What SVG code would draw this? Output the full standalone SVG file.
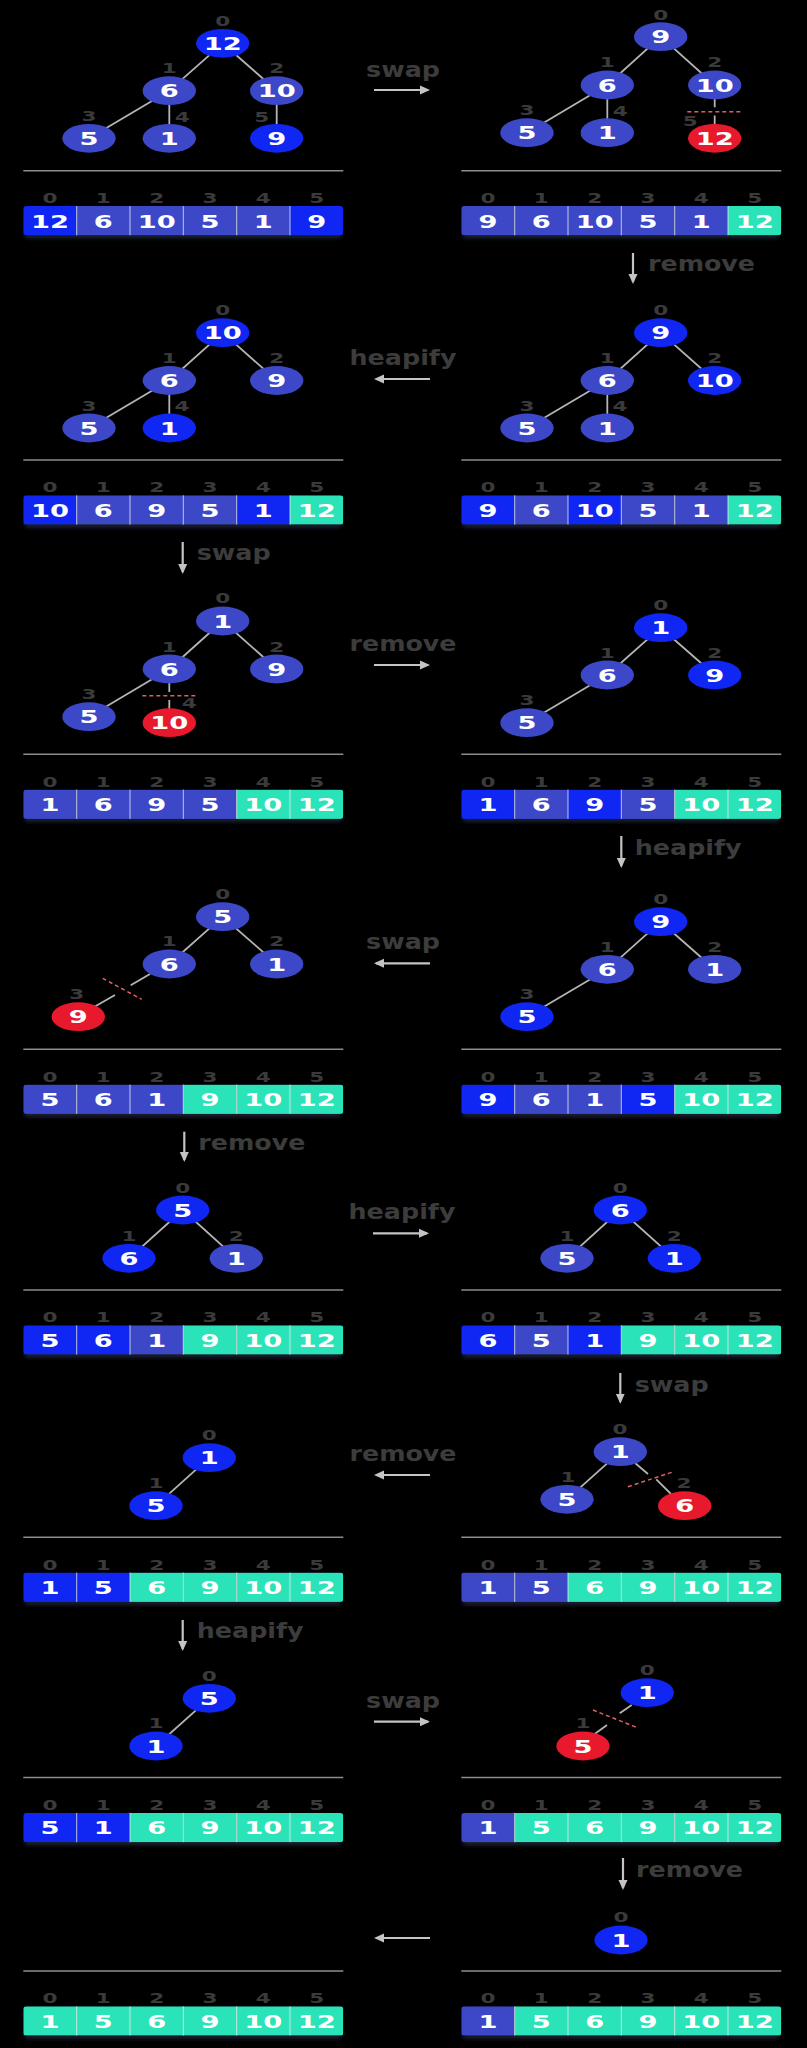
<svg xmlns="http://www.w3.org/2000/svg" width="807" height="2048" viewBox="0 0 807 2048">
<style>
.B{fill:#1026f2}.M{fill:#3d48c8}.R{fill:#e8192c}.T{fill:#2ae3b9}
.v{font-family:"DejaVu Sans","Liberation Sans",sans-serif;font-weight:bold;font-size:18.5px;fill:#fff;text-anchor:middle}
.i{font-family:"DejaVu Sans","Liberation Sans",sans-serif;font-weight:bold;font-size:14px;fill:#3a3a3a;text-anchor:middle}
.a{font-family:"DejaVu Sans","Liberation Sans",sans-serif;font-weight:bold;font-size:22px;fill:#3c3c3c}
.c{text-anchor:middle}
.e{stroke:#b4b4b4;stroke-width:1.8;fill:none}
.d{stroke:#e06060;stroke-width:1.5;stroke-dasharray:4 3;fill:none}
.ar{stroke:#c4c4c4;stroke-width:2.2;fill:none;marker-end:url(#ah)}
.dv{stroke:#8c8c8c;stroke-width:1.5}
.sp{stroke:#e8e8e8;stroke-width:1;opacity:.8}
.sh{fill:#1b2333;filter:url(#bl)}
</style>
<defs>
<marker id="ah" markerWidth="10" markerHeight="10" refX="8" refY="5" orient="auto" markerUnits="userSpaceOnUse"><path d="M0,0.5 L10,5 L0,9.5 z" fill="#c4c4c4"/></marker>
<clipPath id="rc" clipPathUnits="objectBoundingBox"><rect x="0" y="0" width="1" height="1" rx="0.01" ry="0.1"/></clipPath>
<filter id="bl" x="-10%" y="-50%" width="120%" height="200%"><feGaussianBlur stdDeviation="2"/></filter>
</defs>
<rect width="807" height="2048" fill="#000"/>

<g id="dividers">
<path class="dv" d="M23.3,170.7H343.3M461.3,170.7H781.3M23.3,460H343.3M461.3,460H781.3M23.3,754.3H343.3M461.3,754.3H781.3M23.3,1049.3H343.3M461.3,1049.3H781.3M23.3,1290H343.3M461.3,1290H781.3M23.3,1537.3H343.3M461.3,1537.3H781.3M23.3,1777.6H343.3M461.3,1777.6H781.3M23.3,1971H343.3M461.3,1971H781.3"/>
</g>

<g id="connectors">
<path class="e" d="M222.7,43.3L169.3,90.7M222.7,43.3L276.7,90.7M169.3,90.7L89,138.3M169.3,90.7L169.3,138.3M276.7,90.7L276.7,138.3"/>
<path class="e" d="M660.7,36.7L607.3,85M660.7,36.7L714.7,85M607.3,85L527,132.7M607.3,85L607.3,132.7M714.7,99L714.7,107.3M714.7,115.5L714.7,124.5"/>
<path class="e" d="M222.7,332.7L169.3,380.5M222.7,332.7L276.7,380.5M169.3,380.5L89,428M169.3,380.5L169.3,428"/>
<path class="e" d="M660.7,332.7L607.3,380.5M660.7,332.7L714.7,380.5M607.3,380.5L527,428M607.3,380.5L607.3,428"/>
<path class="e" d="M222.7,621L169.3,669M222.7,621L276.7,669M169.3,669L89,716.7M169.3,683L169.3,692M169.3,700L169.3,709"/>
<path class="e" d="M660.7,627.7L607.3,675M660.7,627.7L714.7,675M607.3,675L527,722.7"/>
<path class="e" d="M222.7,916.7L169.3,964M222.7,916.7L276.7,964M150,974L130.7,985.3M115,995L94,1007"/>
<path class="e" d="M660.7,921.7L607.3,969.3M660.7,921.7L714.7,969.3M607.3,969.3L527,1016.7"/>
<path class="e" d="M182.7,1210L129,1258.3M182.7,1210L236.3,1258.3"/>
<path class="e" d="M620.3,1210L567,1258.3M620.3,1210L674.3,1258.3"/>
<path class="e" d="M209.3,1457.7L156,1505.7"/>
<path class="e" d="M620.3,1451.7L567,1499.3M635.3,1463.3L648,1474M656.3,1479.3L671,1494"/>
<path class="e" d="M209.3,1698.3L156,1746"/>
<path class="e" d="M631.7,1705L619.7,1713.3M607,1725L594,1734.5"/>
<path class="d" d="M687.3,111.7H741.3M142.3,695.7H196M102.7,978.3L141.7,999.3M628,1486.7L673.7,1471.7M593,1710L636.3,1727.3"/>
<path class="ar" d="M374,90H428"/>
<path class="ar" d="M430,379H376"/>
<path class="ar" d="M374,665H428"/>
<path class="ar" d="M430,963.3H376"/>
<path class="ar" d="M373,1233.3H427"/>
<path class="ar" d="M430,1475H376"/>
<path class="ar" d="M374,1721.7H428"/>
<path class="ar" d="M430,1938H376"/>
<path class="ar" d="M633,253V282"/>
<path class="ar" d="M182.7,542V572"/>
<path class="ar" d="M621.3,836V866"/>
<path class="ar" d="M184.3,1131.7V1160"/>
<path class="ar" d="M620.3,1373V1401.7"/>
<path class="ar" d="M182.7,1620V1649"/>
<path class="ar" d="M623,1858V1888"/>
</g>

<g id="labels">
<text class="a c" x="403" y="77" textLength="74" lengthAdjust="spacingAndGlyphs">swap</text>
<text class="a c" x="403" y="365" textLength="107" lengthAdjust="spacingAndGlyphs">heapify</text>
<text class="a c" x="403" y="651" textLength="107" lengthAdjust="spacingAndGlyphs">remove</text>
<text class="a c" x="403" y="949.3" textLength="74" lengthAdjust="spacingAndGlyphs">swap</text>
<text class="a c" x="402" y="1219.3" textLength="107" lengthAdjust="spacingAndGlyphs">heapify</text>
<text class="a c" x="403" y="1461" textLength="107" lengthAdjust="spacingAndGlyphs">remove</text>
<text class="a c" x="403" y="1707.5" textLength="74" lengthAdjust="spacingAndGlyphs">swap</text>
<text class="a" x="648" y="271" textLength="107" lengthAdjust="spacingAndGlyphs">remove</text>
<text class="a" x="196.7" y="560" textLength="74" lengthAdjust="spacingAndGlyphs">swap</text>
<text class="a" x="634.7" y="855" textLength="107" lengthAdjust="spacingAndGlyphs">heapify</text>
<text class="a" x="198.3" y="1149.5" textLength="107" lengthAdjust="spacingAndGlyphs">remove</text>
<text class="a" x="634.7" y="1391.7" textLength="74" lengthAdjust="spacingAndGlyphs">swap</text>
<text class="a" x="196.7" y="1638.3" textLength="107" lengthAdjust="spacingAndGlyphs">heapify</text>
<text class="a" x="636" y="1877" textLength="107" lengthAdjust="spacingAndGlyphs">remove</text>
</g>

<!-- Row 1 left -->
<g id="r1l-n0"><text class="i" x="222.7" y="25.7" textLength="15" lengthAdjust="spacingAndGlyphs">0</text><ellipse class="B" cx="222.7" cy="43.3" rx="26.7" ry="14.4"/><text class="v" x="222.7" y="50" textLength="38" lengthAdjust="spacingAndGlyphs">12</text></g>
<g id="r1l-n1"><text class="i" x="169.3" y="73" textLength="15" lengthAdjust="spacingAndGlyphs">1</text><ellipse class="M" cx="169.3" cy="90.7" rx="26.7" ry="14.4"/><text class="v" x="169.3" y="97.4" textLength="19" lengthAdjust="spacingAndGlyphs">6</text></g>
<g id="r1l-n2"><text class="i" x="276.7" y="73" textLength="15" lengthAdjust="spacingAndGlyphs">2</text><ellipse class="M" cx="276.7" cy="90.7" rx="26.7" ry="14.4"/><text class="v" x="276.7" y="97.4" textLength="38" lengthAdjust="spacingAndGlyphs">10</text></g>
<g id="r1l-n3"><text class="i" x="89" y="121" textLength="15" lengthAdjust="spacingAndGlyphs">3</text><ellipse class="M" cx="89" cy="138.3" rx="26.7" ry="14.4"/><text class="v" x="89" y="145" textLength="19" lengthAdjust="spacingAndGlyphs">5</text></g>
<g id="r1l-n4"><text class="i" x="182.3" y="122" textLength="15" lengthAdjust="spacingAndGlyphs">4</text><ellipse class="M" cx="169.3" cy="138.3" rx="26.7" ry="14.4"/><text class="v" x="169.3" y="145" textLength="19" lengthAdjust="spacingAndGlyphs">1</text></g>
<g id="r1l-n5"><text class="i" x="261.7" y="122" textLength="15" lengthAdjust="spacingAndGlyphs">5</text><ellipse class="B" cx="276.7" cy="138.3" rx="26.7" ry="14.4"/><text class="v" x="276.7" y="145" textLength="19" lengthAdjust="spacingAndGlyphs">9</text></g>
<g id="r1l-array">
<rect class="sh" x="25" y="209" width="316" height="29.3"/>
<text class="i" x="50" y="203" textLength="15" lengthAdjust="spacingAndGlyphs">0</text><text class="i" x="103.3" y="203" textLength="15" lengthAdjust="spacingAndGlyphs">1</text><text class="i" x="156.7" y="203" textLength="15" lengthAdjust="spacingAndGlyphs">2</text><text class="i" x="210" y="203" textLength="15" lengthAdjust="spacingAndGlyphs">3</text><text class="i" x="263.3" y="203" textLength="15" lengthAdjust="spacingAndGlyphs">4</text><text class="i" x="316.7" y="203" textLength="15" lengthAdjust="spacingAndGlyphs">5</text>
<g clip-path="url(#rc)"><rect class="B" x="23.3" y="206" width="53.4" height="29.3"/><rect class="M" x="76.7" y="206" width="53.4" height="29.3"/><rect class="M" x="130" y="206" width="53.4" height="29.3"/><rect class="M" x="183.3" y="206" width="53.4" height="29.3"/><rect class="M" x="236.7" y="206" width="53.4" height="29.3"/><rect class="B" x="290" y="206" width="53.3" height="29.3"/></g>
<path class="sp" d="M76.7,206v29.3M130,206v29.3M183.3,206v29.3M236.7,206v29.3M290,206v29.3"/>
<text class="v" x="50" y="227.5" textLength="38" lengthAdjust="spacingAndGlyphs">12</text><text class="v" x="103.3" y="227.5" textLength="19" lengthAdjust="spacingAndGlyphs">6</text><text class="v" x="156.7" y="227.5" textLength="38" lengthAdjust="spacingAndGlyphs">10</text><text class="v" x="210" y="227.5" textLength="19" lengthAdjust="spacingAndGlyphs">5</text><text class="v" x="263.3" y="227.5" textLength="19" lengthAdjust="spacingAndGlyphs">1</text><text class="v" x="316.7" y="227.5" textLength="19" lengthAdjust="spacingAndGlyphs">9</text>
</g>

<!-- Row 1 right -->
<g id="r1r-n0"><text class="i" x="660.7" y="20" textLength="15" lengthAdjust="spacingAndGlyphs">0</text><ellipse class="M" cx="660.7" cy="36.7" rx="26.7" ry="14.4"/><text class="v" x="660.7" y="43.4" textLength="19" lengthAdjust="spacingAndGlyphs">9</text></g>
<g id="r1r-n1"><text class="i" x="607.3" y="67.4" textLength="15" lengthAdjust="spacingAndGlyphs">1</text><ellipse class="M" cx="607.3" cy="85" rx="26.7" ry="14.4"/><text class="v" x="607.3" y="91.7" textLength="19" lengthAdjust="spacingAndGlyphs">6</text></g>
<g id="r1r-n2"><text class="i" x="714.7" y="67.4" textLength="15" lengthAdjust="spacingAndGlyphs">2</text><ellipse class="M" cx="714.7" cy="85" rx="26.7" ry="14.4"/><text class="v" x="714.7" y="91.7" textLength="38" lengthAdjust="spacingAndGlyphs">10</text></g>
<g id="r1r-n3"><text class="i" x="527" y="115.4" textLength="15" lengthAdjust="spacingAndGlyphs">3</text><ellipse class="M" cx="527" cy="132.7" rx="26.7" ry="14.4"/><text class="v" x="527" y="139.4" textLength="19" lengthAdjust="spacingAndGlyphs">5</text></g>
<g id="r1r-n4"><text class="i" x="620.3" y="116" textLength="15" lengthAdjust="spacingAndGlyphs">4</text><ellipse class="M" cx="607.3" cy="132.7" rx="26.7" ry="14.4"/><text class="v" x="607.3" y="139.4" textLength="19" lengthAdjust="spacingAndGlyphs">1</text></g>
<g id="r1r-n5"><text class="i" x="690.3" y="125.7" textLength="15" lengthAdjust="spacingAndGlyphs">5</text><ellipse class="R" cx="714.7" cy="138.3" rx="26.7" ry="14.4"/><text class="v" x="714.7" y="145" textLength="38" lengthAdjust="spacingAndGlyphs">12</text></g>
<g id="r1r-array">
<rect class="sh" x="463" y="209" width="316" height="29.3"/>
<text class="i" x="488" y="203" textLength="15" lengthAdjust="spacingAndGlyphs">0</text><text class="i" x="541.3" y="203" textLength="15" lengthAdjust="spacingAndGlyphs">1</text><text class="i" x="594.7" y="203" textLength="15" lengthAdjust="spacingAndGlyphs">2</text><text class="i" x="648" y="203" textLength="15" lengthAdjust="spacingAndGlyphs">3</text><text class="i" x="701.3" y="203" textLength="15" lengthAdjust="spacingAndGlyphs">4</text><text class="i" x="754.7" y="203" textLength="15" lengthAdjust="spacingAndGlyphs">5</text>
<g clip-path="url(#rc)"><rect class="M" x="461.3" y="206" width="53.4" height="29.3"/><rect class="M" x="514.7" y="206" width="53.4" height="29.3"/><rect class="M" x="568" y="206" width="53.4" height="29.3"/><rect class="M" x="621.3" y="206" width="53.4" height="29.3"/><rect class="M" x="674.7" y="206" width="53.4" height="29.3"/><rect class="T" x="728" y="206" width="53.3" height="29.3"/></g>
<path class="sp" d="M514.7,206v29.3M568,206v29.3M621.3,206v29.3M674.7,206v29.3M728,206v29.3"/>
<text class="v" x="488" y="227.5" textLength="19" lengthAdjust="spacingAndGlyphs">9</text><text class="v" x="541.3" y="227.5" textLength="19" lengthAdjust="spacingAndGlyphs">6</text><text class="v" x="594.7" y="227.5" textLength="38" lengthAdjust="spacingAndGlyphs">10</text><text class="v" x="648" y="227.5" textLength="19" lengthAdjust="spacingAndGlyphs">5</text><text class="v" x="701.3" y="227.5" textLength="19" lengthAdjust="spacingAndGlyphs">1</text><text class="v" x="754.7" y="227.5" textLength="38" lengthAdjust="spacingAndGlyphs">12</text>
</g>

<!-- Row 2 left -->
<g id="r2l-n0"><text class="i" x="222.7" y="315" textLength="15" lengthAdjust="spacingAndGlyphs">0</text><ellipse class="B" cx="222.7" cy="332.7" rx="26.7" ry="14.4"/><text class="v" x="222.7" y="339.4" textLength="38" lengthAdjust="spacingAndGlyphs">10</text></g>
<g id="r2l-n1"><text class="i" x="169.3" y="362.7" textLength="15" lengthAdjust="spacingAndGlyphs">1</text><ellipse class="M" cx="169.3" cy="380.5" rx="26.7" ry="14.4"/><text class="v" x="169.3" y="387.2" textLength="19" lengthAdjust="spacingAndGlyphs">6</text></g>
<g id="r2l-n2"><text class="i" x="276.7" y="362.7" textLength="15" lengthAdjust="spacingAndGlyphs">2</text><ellipse class="M" cx="276.7" cy="380.5" rx="26.7" ry="14.4"/><text class="v" x="276.7" y="387.2" textLength="19" lengthAdjust="spacingAndGlyphs">9</text></g>
<g id="r2l-n3"><text class="i" x="89" y="410.7" textLength="15" lengthAdjust="spacingAndGlyphs">3</text><ellipse class="M" cx="89" cy="428" rx="26.7" ry="14.4"/><text class="v" x="89" y="434.7" textLength="19" lengthAdjust="spacingAndGlyphs">5</text></g>
<g id="r2l-n4"><text class="i" x="182" y="411" textLength="15" lengthAdjust="spacingAndGlyphs">4</text><ellipse class="B" cx="169.3" cy="428" rx="26.7" ry="14.4"/><text class="v" x="169.3" y="434.7" textLength="19" lengthAdjust="spacingAndGlyphs">1</text></g>
<g id="r2l-array">
<rect class="sh" x="25" y="498.3" width="316" height="29.3"/>
<text class="i" x="50" y="492.3" textLength="15" lengthAdjust="spacingAndGlyphs">0</text><text class="i" x="103.3" y="492.3" textLength="15" lengthAdjust="spacingAndGlyphs">1</text><text class="i" x="156.7" y="492.3" textLength="15" lengthAdjust="spacingAndGlyphs">2</text><text class="i" x="210" y="492.3" textLength="15" lengthAdjust="spacingAndGlyphs">3</text><text class="i" x="263.3" y="492.3" textLength="15" lengthAdjust="spacingAndGlyphs">4</text><text class="i" x="316.7" y="492.3" textLength="15" lengthAdjust="spacingAndGlyphs">5</text>
<g clip-path="url(#rc)"><rect class="B" x="23.3" y="495.3" width="53.4" height="29.3"/><rect class="M" x="76.7" y="495.3" width="53.4" height="29.3"/><rect class="M" x="130" y="495.3" width="53.4" height="29.3"/><rect class="M" x="183.3" y="495.3" width="53.4" height="29.3"/><rect class="B" x="236.7" y="495.3" width="53.4" height="29.3"/><rect class="T" x="290" y="495.3" width="53.3" height="29.3"/></g>
<path class="sp" d="M76.7,495.3v29.3M130,495.3v29.3M183.3,495.3v29.3M236.7,495.3v29.3M290,495.3v29.3"/>
<text class="v" x="50" y="516.8" textLength="38" lengthAdjust="spacingAndGlyphs">10</text><text class="v" x="103.3" y="516.8" textLength="19" lengthAdjust="spacingAndGlyphs">6</text><text class="v" x="156.7" y="516.8" textLength="19" lengthAdjust="spacingAndGlyphs">9</text><text class="v" x="210" y="516.8" textLength="19" lengthAdjust="spacingAndGlyphs">5</text><text class="v" x="263.3" y="516.8" textLength="19" lengthAdjust="spacingAndGlyphs">1</text><text class="v" x="316.7" y="516.8" textLength="38" lengthAdjust="spacingAndGlyphs">12</text>
</g>

<!-- Row 2 right -->
<g id="r2r-n0"><text class="i" x="660.7" y="315" textLength="15" lengthAdjust="spacingAndGlyphs">0</text><ellipse class="B" cx="660.7" cy="332.7" rx="26.7" ry="14.4"/><text class="v" x="660.7" y="339.4" textLength="19" lengthAdjust="spacingAndGlyphs">9</text></g>
<g id="r2r-n1"><text class="i" x="607.3" y="362.7" textLength="15" lengthAdjust="spacingAndGlyphs">1</text><ellipse class="M" cx="607.3" cy="380.5" rx="26.7" ry="14.4"/><text class="v" x="607.3" y="387.2" textLength="19" lengthAdjust="spacingAndGlyphs">6</text></g>
<g id="r2r-n2"><text class="i" x="714.7" y="362.7" textLength="15" lengthAdjust="spacingAndGlyphs">2</text><ellipse class="B" cx="714.7" cy="380.5" rx="26.7" ry="14.4"/><text class="v" x="714.7" y="387.2" textLength="38" lengthAdjust="spacingAndGlyphs">10</text></g>
<g id="r2r-n3"><text class="i" x="527" y="410.7" textLength="15" lengthAdjust="spacingAndGlyphs">3</text><ellipse class="M" cx="527" cy="428" rx="26.7" ry="14.4"/><text class="v" x="527" y="434.7" textLength="19" lengthAdjust="spacingAndGlyphs">5</text></g>
<g id="r2r-n4"><text class="i" x="620" y="411" textLength="15" lengthAdjust="spacingAndGlyphs">4</text><ellipse class="M" cx="607.3" cy="428" rx="26.7" ry="14.4"/><text class="v" x="607.3" y="434.7" textLength="19" lengthAdjust="spacingAndGlyphs">1</text></g>
<g id="r2r-array">
<rect class="sh" x="463" y="498.3" width="316" height="29.3"/>
<text class="i" x="488" y="492.3" textLength="15" lengthAdjust="spacingAndGlyphs">0</text><text class="i" x="541.3" y="492.3" textLength="15" lengthAdjust="spacingAndGlyphs">1</text><text class="i" x="594.7" y="492.3" textLength="15" lengthAdjust="spacingAndGlyphs">2</text><text class="i" x="648" y="492.3" textLength="15" lengthAdjust="spacingAndGlyphs">3</text><text class="i" x="701.3" y="492.3" textLength="15" lengthAdjust="spacingAndGlyphs">4</text><text class="i" x="754.7" y="492.3" textLength="15" lengthAdjust="spacingAndGlyphs">5</text>
<g clip-path="url(#rc)"><rect class="B" x="461.3" y="495.3" width="53.4" height="29.3"/><rect class="M" x="514.7" y="495.3" width="53.4" height="29.3"/><rect class="B" x="568" y="495.3" width="53.4" height="29.3"/><rect class="M" x="621.3" y="495.3" width="53.4" height="29.3"/><rect class="M" x="674.7" y="495.3" width="53.4" height="29.3"/><rect class="T" x="728" y="495.3" width="53.3" height="29.3"/></g>
<path class="sp" d="M514.7,495.3v29.3M568,495.3v29.3M621.3,495.3v29.3M674.7,495.3v29.3M728,495.3v29.3"/>
<text class="v" x="488" y="516.8" textLength="19" lengthAdjust="spacingAndGlyphs">9</text><text class="v" x="541.3" y="516.8" textLength="19" lengthAdjust="spacingAndGlyphs">6</text><text class="v" x="594.7" y="516.8" textLength="38" lengthAdjust="spacingAndGlyphs">10</text><text class="v" x="648" y="516.8" textLength="19" lengthAdjust="spacingAndGlyphs">5</text><text class="v" x="701.3" y="516.8" textLength="19" lengthAdjust="spacingAndGlyphs">1</text><text class="v" x="754.7" y="516.8" textLength="38" lengthAdjust="spacingAndGlyphs">12</text>
</g>

<!-- Row 3 left -->
<g id="r3l-n0"><text class="i" x="222.7" y="603.4" textLength="15" lengthAdjust="spacingAndGlyphs">0</text><ellipse class="M" cx="222.7" cy="621" rx="26.7" ry="14.4"/><text class="v" x="222.7" y="627.7" textLength="19" lengthAdjust="spacingAndGlyphs">1</text></g>
<g id="r3l-n1"><text class="i" x="169.3" y="651.5" textLength="15" lengthAdjust="spacingAndGlyphs">1</text><ellipse class="M" cx="169.3" cy="669" rx="26.7" ry="14.4"/><text class="v" x="169.3" y="675.7" textLength="19" lengthAdjust="spacingAndGlyphs">6</text></g>
<g id="r3l-n2"><text class="i" x="276.7" y="651.5" textLength="15" lengthAdjust="spacingAndGlyphs">2</text><ellipse class="M" cx="276.7" cy="669" rx="26.7" ry="14.4"/><text class="v" x="276.7" y="675.7" textLength="19" lengthAdjust="spacingAndGlyphs">9</text></g>
<g id="r3l-n3"><text class="i" x="89" y="699.2" textLength="15" lengthAdjust="spacingAndGlyphs">3</text><ellipse class="M" cx="89" cy="716.7" rx="26.7" ry="14.4"/><text class="v" x="89" y="723.4" textLength="19" lengthAdjust="spacingAndGlyphs">5</text></g>
<g id="r3l-n4"><text class="i" x="189.3" y="707.7" textLength="15" lengthAdjust="spacingAndGlyphs">4</text><ellipse class="R" cx="169.3" cy="722.7" rx="26.7" ry="14.4"/><text class="v" x="169.3" y="729.4" textLength="38" lengthAdjust="spacingAndGlyphs">10</text></g>
<g id="r3l-array">
<rect class="sh" x="25" y="792.6" width="316" height="29.3"/>
<text class="i" x="50" y="786.6" textLength="15" lengthAdjust="spacingAndGlyphs">0</text><text class="i" x="103.3" y="786.6" textLength="15" lengthAdjust="spacingAndGlyphs">1</text><text class="i" x="156.7" y="786.6" textLength="15" lengthAdjust="spacingAndGlyphs">2</text><text class="i" x="210" y="786.6" textLength="15" lengthAdjust="spacingAndGlyphs">3</text><text class="i" x="263.3" y="786.6" textLength="15" lengthAdjust="spacingAndGlyphs">4</text><text class="i" x="316.7" y="786.6" textLength="15" lengthAdjust="spacingAndGlyphs">5</text>
<g clip-path="url(#rc)"><rect class="M" x="23.3" y="789.6" width="53.4" height="29.3"/><rect class="M" x="76.7" y="789.6" width="53.4" height="29.3"/><rect class="M" x="130" y="789.6" width="53.4" height="29.3"/><rect class="M" x="183.3" y="789.6" width="53.4" height="29.3"/><rect class="T" x="236.7" y="789.6" width="53.4" height="29.3"/><rect class="T" x="290" y="789.6" width="53.3" height="29.3"/></g>
<path class="sp" d="M76.7,789.6v29.3M130,789.6v29.3M183.3,789.6v29.3M236.7,789.6v29.3M290,789.6v29.3"/>
<text class="v" x="50" y="811.1" textLength="19" lengthAdjust="spacingAndGlyphs">1</text><text class="v" x="103.3" y="811.1" textLength="19" lengthAdjust="spacingAndGlyphs">6</text><text class="v" x="156.7" y="811.1" textLength="19" lengthAdjust="spacingAndGlyphs">9</text><text class="v" x="210" y="811.1" textLength="19" lengthAdjust="spacingAndGlyphs">5</text><text class="v" x="263.3" y="811.1" textLength="38" lengthAdjust="spacingAndGlyphs">10</text><text class="v" x="316.7" y="811.1" textLength="38" lengthAdjust="spacingAndGlyphs">12</text>
</g>

<!-- Row 3 right -->
<g id="r3r-n0"><text class="i" x="660.7" y="609.5" textLength="15" lengthAdjust="spacingAndGlyphs">0</text><ellipse class="B" cx="660.7" cy="627.7" rx="26.7" ry="14.4"/><text class="v" x="660.7" y="634.4" textLength="19" lengthAdjust="spacingAndGlyphs">1</text></g>
<g id="r3r-n1"><text class="i" x="607.3" y="658" textLength="15" lengthAdjust="spacingAndGlyphs">1</text><ellipse class="M" cx="607.3" cy="675" rx="26.7" ry="14.4"/><text class="v" x="607.3" y="681.7" textLength="19" lengthAdjust="spacingAndGlyphs">6</text></g>
<g id="r3r-n2"><text class="i" x="714.7" y="658" textLength="15" lengthAdjust="spacingAndGlyphs">2</text><ellipse class="B" cx="714.7" cy="675" rx="26.7" ry="14.4"/><text class="v" x="714.7" y="681.7" textLength="19" lengthAdjust="spacingAndGlyphs">9</text></g>
<g id="r3r-n3"><text class="i" x="527" y="705" textLength="15" lengthAdjust="spacingAndGlyphs">3</text><ellipse class="M" cx="527" cy="722.7" rx="26.7" ry="14.4"/><text class="v" x="527" y="729.4" textLength="19" lengthAdjust="spacingAndGlyphs">5</text></g>
<g id="r3r-array">
<rect class="sh" x="463" y="792.6" width="316" height="29.3"/>
<text class="i" x="488" y="786.6" textLength="15" lengthAdjust="spacingAndGlyphs">0</text><text class="i" x="541.3" y="786.6" textLength="15" lengthAdjust="spacingAndGlyphs">1</text><text class="i" x="594.7" y="786.6" textLength="15" lengthAdjust="spacingAndGlyphs">2</text><text class="i" x="648" y="786.6" textLength="15" lengthAdjust="spacingAndGlyphs">3</text><text class="i" x="701.3" y="786.6" textLength="15" lengthAdjust="spacingAndGlyphs">4</text><text class="i" x="754.7" y="786.6" textLength="15" lengthAdjust="spacingAndGlyphs">5</text>
<g clip-path="url(#rc)"><rect class="B" x="461.3" y="789.6" width="53.4" height="29.3"/><rect class="M" x="514.7" y="789.6" width="53.4" height="29.3"/><rect class="B" x="568" y="789.6" width="53.4" height="29.3"/><rect class="M" x="621.3" y="789.6" width="53.4" height="29.3"/><rect class="T" x="674.7" y="789.6" width="53.4" height="29.3"/><rect class="T" x="728" y="789.6" width="53.3" height="29.3"/></g>
<path class="sp" d="M514.7,789.6v29.3M568,789.6v29.3M621.3,789.6v29.3M674.7,789.6v29.3M728,789.6v29.3"/>
<text class="v" x="488" y="811.1" textLength="19" lengthAdjust="spacingAndGlyphs">1</text><text class="v" x="541.3" y="811.1" textLength="19" lengthAdjust="spacingAndGlyphs">6</text><text class="v" x="594.7" y="811.1" textLength="19" lengthAdjust="spacingAndGlyphs">9</text><text class="v" x="648" y="811.1" textLength="19" lengthAdjust="spacingAndGlyphs">5</text><text class="v" x="701.3" y="811.1" textLength="38" lengthAdjust="spacingAndGlyphs">10</text><text class="v" x="754.7" y="811.1" textLength="38" lengthAdjust="spacingAndGlyphs">12</text>
</g>

<!-- Row 4 left -->
<g id="r4l-n0"><text class="i" x="222.7" y="898.5" textLength="15" lengthAdjust="spacingAndGlyphs">0</text><ellipse class="M" cx="222.7" cy="916.7" rx="26.7" ry="14.4"/><text class="v" x="222.7" y="923.4" textLength="19" lengthAdjust="spacingAndGlyphs">5</text></g>
<g id="r4l-n1"><text class="i" x="169.3" y="946.2" textLength="15" lengthAdjust="spacingAndGlyphs">1</text><ellipse class="M" cx="169.3" cy="964" rx="26.7" ry="14.4"/><text class="v" x="169.3" y="970.7" textLength="19" lengthAdjust="spacingAndGlyphs">6</text></g>
<g id="r4l-n2"><text class="i" x="276.7" y="946.2" textLength="15" lengthAdjust="spacingAndGlyphs">2</text><ellipse class="M" cx="276.7" cy="964" rx="26.7" ry="14.4"/><text class="v" x="276.7" y="970.7" textLength="19" lengthAdjust="spacingAndGlyphs">1</text></g>
<g id="r4l-n3"><text class="i" x="76.7" y="999.3" textLength="15" lengthAdjust="spacingAndGlyphs">3</text><ellipse class="R" cx="78.3" cy="1016.7" rx="26.7" ry="14.4"/><text class="v" x="78.3" y="1023.4" textLength="19" lengthAdjust="spacingAndGlyphs">9</text></g>
<g id="r4l-array">
<rect class="sh" x="25" y="1087.6" width="316" height="29.3"/>
<text class="i" x="50" y="1081.6" textLength="15" lengthAdjust="spacingAndGlyphs">0</text><text class="i" x="103.3" y="1081.6" textLength="15" lengthAdjust="spacingAndGlyphs">1</text><text class="i" x="156.7" y="1081.6" textLength="15" lengthAdjust="spacingAndGlyphs">2</text><text class="i" x="210" y="1081.6" textLength="15" lengthAdjust="spacingAndGlyphs">3</text><text class="i" x="263.3" y="1081.6" textLength="15" lengthAdjust="spacingAndGlyphs">4</text><text class="i" x="316.7" y="1081.6" textLength="15" lengthAdjust="spacingAndGlyphs">5</text>
<g clip-path="url(#rc)"><rect class="M" x="23.3" y="1084.6" width="53.4" height="29.3"/><rect class="M" x="76.7" y="1084.6" width="53.4" height="29.3"/><rect class="M" x="130" y="1084.6" width="53.4" height="29.3"/><rect class="T" x="183.3" y="1084.6" width="53.4" height="29.3"/><rect class="T" x="236.7" y="1084.6" width="53.4" height="29.3"/><rect class="T" x="290" y="1084.6" width="53.3" height="29.3"/></g>
<path class="sp" d="M76.7,1084.6v29.3M130,1084.6v29.3M183.3,1084.6v29.3M236.7,1084.6v29.3M290,1084.6v29.3"/>
<text class="v" x="50" y="1106.1" textLength="19" lengthAdjust="spacingAndGlyphs">5</text><text class="v" x="103.3" y="1106.1" textLength="19" lengthAdjust="spacingAndGlyphs">6</text><text class="v" x="156.7" y="1106.1" textLength="19" lengthAdjust="spacingAndGlyphs">1</text><text class="v" x="210" y="1106.1" textLength="19" lengthAdjust="spacingAndGlyphs">9</text><text class="v" x="263.3" y="1106.1" textLength="38" lengthAdjust="spacingAndGlyphs">10</text><text class="v" x="316.7" y="1106.1" textLength="38" lengthAdjust="spacingAndGlyphs">12</text>
</g>

<!-- Row 4 right -->
<g id="r4r-n0"><text class="i" x="660.7" y="904.2" textLength="15" lengthAdjust="spacingAndGlyphs">0</text><ellipse class="B" cx="660.7" cy="921.7" rx="26.7" ry="14.4"/><text class="v" x="660.7" y="928.4" textLength="19" lengthAdjust="spacingAndGlyphs">9</text></g>
<g id="r4r-n1"><text class="i" x="607.3" y="952" textLength="15" lengthAdjust="spacingAndGlyphs">1</text><ellipse class="M" cx="607.3" cy="969.3" rx="26.7" ry="14.4"/><text class="v" x="607.3" y="976" textLength="19" lengthAdjust="spacingAndGlyphs">6</text></g>
<g id="r4r-n2"><text class="i" x="714.7" y="952" textLength="15" lengthAdjust="spacingAndGlyphs">2</text><ellipse class="M" cx="714.7" cy="969.3" rx="26.7" ry="14.4"/><text class="v" x="714.7" y="976" textLength="19" lengthAdjust="spacingAndGlyphs">1</text></g>
<g id="r4r-n3"><text class="i" x="527" y="999.3" textLength="15" lengthAdjust="spacingAndGlyphs">3</text><ellipse class="B" cx="527" cy="1016.7" rx="26.7" ry="14.4"/><text class="v" x="527" y="1023.4" textLength="19" lengthAdjust="spacingAndGlyphs">5</text></g>
<g id="r4r-array">
<rect class="sh" x="463" y="1087.6" width="316" height="29.3"/>
<text class="i" x="488" y="1081.6" textLength="15" lengthAdjust="spacingAndGlyphs">0</text><text class="i" x="541.3" y="1081.6" textLength="15" lengthAdjust="spacingAndGlyphs">1</text><text class="i" x="594.7" y="1081.6" textLength="15" lengthAdjust="spacingAndGlyphs">2</text><text class="i" x="648" y="1081.6" textLength="15" lengthAdjust="spacingAndGlyphs">3</text><text class="i" x="701.3" y="1081.6" textLength="15" lengthAdjust="spacingAndGlyphs">4</text><text class="i" x="754.7" y="1081.6" textLength="15" lengthAdjust="spacingAndGlyphs">5</text>
<g clip-path="url(#rc)"><rect class="B" x="461.3" y="1084.6" width="53.4" height="29.3"/><rect class="M" x="514.7" y="1084.6" width="53.4" height="29.3"/><rect class="M" x="568" y="1084.6" width="53.4" height="29.3"/><rect class="B" x="621.3" y="1084.6" width="53.4" height="29.3"/><rect class="T" x="674.7" y="1084.6" width="53.4" height="29.3"/><rect class="T" x="728" y="1084.6" width="53.3" height="29.3"/></g>
<path class="sp" d="M514.7,1084.6v29.3M568,1084.6v29.3M621.3,1084.6v29.3M674.7,1084.6v29.3M728,1084.6v29.3"/>
<text class="v" x="488" y="1106.1" textLength="19" lengthAdjust="spacingAndGlyphs">9</text><text class="v" x="541.3" y="1106.1" textLength="19" lengthAdjust="spacingAndGlyphs">6</text><text class="v" x="594.7" y="1106.1" textLength="19" lengthAdjust="spacingAndGlyphs">1</text><text class="v" x="648" y="1106.1" textLength="19" lengthAdjust="spacingAndGlyphs">5</text><text class="v" x="701.3" y="1106.1" textLength="38" lengthAdjust="spacingAndGlyphs">10</text><text class="v" x="754.7" y="1106.1" textLength="38" lengthAdjust="spacingAndGlyphs">12</text>
</g>

<!-- Row 5 left -->
<g id="r5l-n0"><text class="i" x="182.7" y="1192.6" textLength="15" lengthAdjust="spacingAndGlyphs">0</text><ellipse class="B" cx="182.7" cy="1210" rx="26.7" ry="14.4"/><text class="v" x="182.7" y="1216.7" textLength="19" lengthAdjust="spacingAndGlyphs">5</text></g>
<g id="r5l-n1"><text class="i" x="129" y="1241" textLength="15" lengthAdjust="spacingAndGlyphs">1</text><ellipse class="B" cx="129" cy="1258.3" rx="26.7" ry="14.4"/><text class="v" x="129" y="1265" textLength="19" lengthAdjust="spacingAndGlyphs">6</text></g>
<g id="r5l-n2"><text class="i" x="236.3" y="1241" textLength="15" lengthAdjust="spacingAndGlyphs">2</text><ellipse class="M" cx="236.3" cy="1258.3" rx="26.7" ry="14.4"/><text class="v" x="236.3" y="1265" textLength="19" lengthAdjust="spacingAndGlyphs">1</text></g>
<g id="r5l-array">
<rect class="sh" x="25" y="1328.3" width="316" height="29.3"/>
<text class="i" x="50" y="1322.3" textLength="15" lengthAdjust="spacingAndGlyphs">0</text><text class="i" x="103.3" y="1322.3" textLength="15" lengthAdjust="spacingAndGlyphs">1</text><text class="i" x="156.7" y="1322.3" textLength="15" lengthAdjust="spacingAndGlyphs">2</text><text class="i" x="210" y="1322.3" textLength="15" lengthAdjust="spacingAndGlyphs">3</text><text class="i" x="263.3" y="1322.3" textLength="15" lengthAdjust="spacingAndGlyphs">4</text><text class="i" x="316.7" y="1322.3" textLength="15" lengthAdjust="spacingAndGlyphs">5</text>
<g clip-path="url(#rc)"><rect class="B" x="23.3" y="1325.3" width="53.4" height="29.3"/><rect class="B" x="76.7" y="1325.3" width="53.4" height="29.3"/><rect class="M" x="130" y="1325.3" width="53.4" height="29.3"/><rect class="T" x="183.3" y="1325.3" width="53.4" height="29.3"/><rect class="T" x="236.7" y="1325.3" width="53.4" height="29.3"/><rect class="T" x="290" y="1325.3" width="53.3" height="29.3"/></g>
<path class="sp" d="M76.7,1325.3v29.3M130,1325.3v29.3M183.3,1325.3v29.3M236.7,1325.3v29.3M290,1325.3v29.3"/>
<text class="v" x="50" y="1346.8" textLength="19" lengthAdjust="spacingAndGlyphs">5</text><text class="v" x="103.3" y="1346.8" textLength="19" lengthAdjust="spacingAndGlyphs">6</text><text class="v" x="156.7" y="1346.8" textLength="19" lengthAdjust="spacingAndGlyphs">1</text><text class="v" x="210" y="1346.8" textLength="19" lengthAdjust="spacingAndGlyphs">9</text><text class="v" x="263.3" y="1346.8" textLength="38" lengthAdjust="spacingAndGlyphs">10</text><text class="v" x="316.7" y="1346.8" textLength="38" lengthAdjust="spacingAndGlyphs">12</text>
</g>

<!-- Row 5 right -->
<g id="r5r-n0"><text class="i" x="620.3" y="1192.6" textLength="15" lengthAdjust="spacingAndGlyphs">0</text><ellipse class="B" cx="620.3" cy="1210" rx="26.7" ry="14.4"/><text class="v" x="620.3" y="1216.7" textLength="19" lengthAdjust="spacingAndGlyphs">6</text></g>
<g id="r5r-n1"><text class="i" x="567" y="1241" textLength="15" lengthAdjust="spacingAndGlyphs">1</text><ellipse class="M" cx="567" cy="1258.3" rx="26.7" ry="14.4"/><text class="v" x="567" y="1265" textLength="19" lengthAdjust="spacingAndGlyphs">5</text></g>
<g id="r5r-n2"><text class="i" x="674.3" y="1241" textLength="15" lengthAdjust="spacingAndGlyphs">2</text><ellipse class="B" cx="674.3" cy="1258.3" rx="26.7" ry="14.4"/><text class="v" x="674.3" y="1265" textLength="19" lengthAdjust="spacingAndGlyphs">1</text></g>
<g id="r5r-array">
<rect class="sh" x="463" y="1328.3" width="316" height="29.3"/>
<text class="i" x="488" y="1322.3" textLength="15" lengthAdjust="spacingAndGlyphs">0</text><text class="i" x="541.3" y="1322.3" textLength="15" lengthAdjust="spacingAndGlyphs">1</text><text class="i" x="594.7" y="1322.3" textLength="15" lengthAdjust="spacingAndGlyphs">2</text><text class="i" x="648" y="1322.3" textLength="15" lengthAdjust="spacingAndGlyphs">3</text><text class="i" x="701.3" y="1322.3" textLength="15" lengthAdjust="spacingAndGlyphs">4</text><text class="i" x="754.7" y="1322.3" textLength="15" lengthAdjust="spacingAndGlyphs">5</text>
<g clip-path="url(#rc)"><rect class="B" x="461.3" y="1325.3" width="53.4" height="29.3"/><rect class="M" x="514.7" y="1325.3" width="53.4" height="29.3"/><rect class="B" x="568" y="1325.3" width="53.4" height="29.3"/><rect class="T" x="621.3" y="1325.3" width="53.4" height="29.3"/><rect class="T" x="674.7" y="1325.3" width="53.4" height="29.3"/><rect class="T" x="728" y="1325.3" width="53.3" height="29.3"/></g>
<path class="sp" d="M514.7,1325.3v29.3M568,1325.3v29.3M621.3,1325.3v29.3M674.7,1325.3v29.3M728,1325.3v29.3"/>
<text class="v" x="488" y="1346.8" textLength="19" lengthAdjust="spacingAndGlyphs">6</text><text class="v" x="541.3" y="1346.8" textLength="19" lengthAdjust="spacingAndGlyphs">5</text><text class="v" x="594.7" y="1346.8" textLength="19" lengthAdjust="spacingAndGlyphs">1</text><text class="v" x="648" y="1346.8" textLength="19" lengthAdjust="spacingAndGlyphs">9</text><text class="v" x="701.3" y="1346.8" textLength="38" lengthAdjust="spacingAndGlyphs">10</text><text class="v" x="754.7" y="1346.8" textLength="38" lengthAdjust="spacingAndGlyphs">12</text>
</g>

<!-- Row 6 left -->
<g id="r6l-n0"><text class="i" x="209.3" y="1440" textLength="15" lengthAdjust="spacingAndGlyphs">0</text><ellipse class="B" cx="209.3" cy="1457.7" rx="26.7" ry="14.4"/><text class="v" x="209.3" y="1464.4" textLength="19" lengthAdjust="spacingAndGlyphs">1</text></g>
<g id="r6l-n1"><text class="i" x="156" y="1487.7" textLength="15" lengthAdjust="spacingAndGlyphs">1</text><ellipse class="B" cx="156" cy="1505.7" rx="26.7" ry="14.4"/><text class="v" x="156" y="1512.4" textLength="19" lengthAdjust="spacingAndGlyphs">5</text></g>
<g id="r6l-array">
<rect class="sh" x="25" y="1575.6" width="316" height="29.3"/>
<text class="i" x="50" y="1569.6" textLength="15" lengthAdjust="spacingAndGlyphs">0</text><text class="i" x="103.3" y="1569.6" textLength="15" lengthAdjust="spacingAndGlyphs">1</text><text class="i" x="156.7" y="1569.6" textLength="15" lengthAdjust="spacingAndGlyphs">2</text><text class="i" x="210" y="1569.6" textLength="15" lengthAdjust="spacingAndGlyphs">3</text><text class="i" x="263.3" y="1569.6" textLength="15" lengthAdjust="spacingAndGlyphs">4</text><text class="i" x="316.7" y="1569.6" textLength="15" lengthAdjust="spacingAndGlyphs">5</text>
<g clip-path="url(#rc)"><rect class="B" x="23.3" y="1572.6" width="53.4" height="29.3"/><rect class="B" x="76.7" y="1572.6" width="53.4" height="29.3"/><rect class="T" x="130" y="1572.6" width="53.4" height="29.3"/><rect class="T" x="183.3" y="1572.6" width="53.4" height="29.3"/><rect class="T" x="236.7" y="1572.6" width="53.4" height="29.3"/><rect class="T" x="290" y="1572.6" width="53.3" height="29.3"/></g>
<path class="sp" d="M76.7,1572.6v29.3M130,1572.6v29.3M183.3,1572.6v29.3M236.7,1572.6v29.3M290,1572.6v29.3"/>
<text class="v" x="50" y="1594.1" textLength="19" lengthAdjust="spacingAndGlyphs">1</text><text class="v" x="103.3" y="1594.1" textLength="19" lengthAdjust="spacingAndGlyphs">5</text><text class="v" x="156.7" y="1594.1" textLength="19" lengthAdjust="spacingAndGlyphs">6</text><text class="v" x="210" y="1594.1" textLength="19" lengthAdjust="spacingAndGlyphs">9</text><text class="v" x="263.3" y="1594.1" textLength="38" lengthAdjust="spacingAndGlyphs">10</text><text class="v" x="316.7" y="1594.1" textLength="38" lengthAdjust="spacingAndGlyphs">12</text>
</g>

<!-- Row 6 right -->
<g id="r6r-n0"><text class="i" x="620" y="1434.3" textLength="15" lengthAdjust="spacingAndGlyphs">0</text><ellipse class="M" cx="620.3" cy="1451.7" rx="26.7" ry="14.4"/><text class="v" x="620.3" y="1458.4" textLength="19" lengthAdjust="spacingAndGlyphs">1</text></g>
<g id="r6r-n1"><text class="i" x="568" y="1482.3" textLength="15" lengthAdjust="spacingAndGlyphs">1</text><ellipse class="M" cx="567" cy="1499.3" rx="26.7" ry="14.4"/><text class="v" x="567" y="1506" textLength="19" lengthAdjust="spacingAndGlyphs">5</text></g>
<g id="r6r-n2"><text class="i" x="684" y="1487.7" textLength="15" lengthAdjust="spacingAndGlyphs">2</text><ellipse class="R" cx="684.7" cy="1505.7" rx="26.7" ry="14.4"/><text class="v" x="684.7" y="1512.4" textLength="19" lengthAdjust="spacingAndGlyphs">6</text></g>
<g id="r6r-array">
<rect class="sh" x="463" y="1575.6" width="316" height="29.3"/>
<text class="i" x="488" y="1569.6" textLength="15" lengthAdjust="spacingAndGlyphs">0</text><text class="i" x="541.3" y="1569.6" textLength="15" lengthAdjust="spacingAndGlyphs">1</text><text class="i" x="594.7" y="1569.6" textLength="15" lengthAdjust="spacingAndGlyphs">2</text><text class="i" x="648" y="1569.6" textLength="15" lengthAdjust="spacingAndGlyphs">3</text><text class="i" x="701.3" y="1569.6" textLength="15" lengthAdjust="spacingAndGlyphs">4</text><text class="i" x="754.7" y="1569.6" textLength="15" lengthAdjust="spacingAndGlyphs">5</text>
<g clip-path="url(#rc)"><rect class="M" x="461.3" y="1572.6" width="53.4" height="29.3"/><rect class="M" x="514.7" y="1572.6" width="53.4" height="29.3"/><rect class="T" x="568" y="1572.6" width="53.4" height="29.3"/><rect class="T" x="621.3" y="1572.6" width="53.4" height="29.3"/><rect class="T" x="674.7" y="1572.6" width="53.4" height="29.3"/><rect class="T" x="728" y="1572.6" width="53.3" height="29.3"/></g>
<path class="sp" d="M514.7,1572.6v29.3M568,1572.6v29.3M621.3,1572.6v29.3M674.7,1572.6v29.3M728,1572.6v29.3"/>
<text class="v" x="488" y="1594.1" textLength="19" lengthAdjust="spacingAndGlyphs">1</text><text class="v" x="541.3" y="1594.1" textLength="19" lengthAdjust="spacingAndGlyphs">5</text><text class="v" x="594.7" y="1594.1" textLength="19" lengthAdjust="spacingAndGlyphs">6</text><text class="v" x="648" y="1594.1" textLength="19" lengthAdjust="spacingAndGlyphs">9</text><text class="v" x="701.3" y="1594.1" textLength="38" lengthAdjust="spacingAndGlyphs">10</text><text class="v" x="754.7" y="1594.1" textLength="38" lengthAdjust="spacingAndGlyphs">12</text>
</g>

<!-- Row 7 left -->
<g id="r7l-n0"><text class="i" x="209.3" y="1681" textLength="15" lengthAdjust="spacingAndGlyphs">0</text><ellipse class="B" cx="209.3" cy="1698.3" rx="26.7" ry="14.4"/><text class="v" x="209.3" y="1705" textLength="19" lengthAdjust="spacingAndGlyphs">5</text></g>
<g id="r7l-n1"><text class="i" x="156" y="1728.3" textLength="15" lengthAdjust="spacingAndGlyphs">1</text><ellipse class="B" cx="156" cy="1746" rx="26.7" ry="14.4"/><text class="v" x="156" y="1752.7" textLength="19" lengthAdjust="spacingAndGlyphs">1</text></g>
<g id="r7l-array">
<rect class="sh" x="25" y="1815.9" width="316" height="29.3"/>
<text class="i" x="50" y="1809.9" textLength="15" lengthAdjust="spacingAndGlyphs">0</text><text class="i" x="103.3" y="1809.9" textLength="15" lengthAdjust="spacingAndGlyphs">1</text><text class="i" x="156.7" y="1809.9" textLength="15" lengthAdjust="spacingAndGlyphs">2</text><text class="i" x="210" y="1809.9" textLength="15" lengthAdjust="spacingAndGlyphs">3</text><text class="i" x="263.3" y="1809.9" textLength="15" lengthAdjust="spacingAndGlyphs">4</text><text class="i" x="316.7" y="1809.9" textLength="15" lengthAdjust="spacingAndGlyphs">5</text>
<g clip-path="url(#rc)"><rect class="B" x="23.3" y="1812.9" width="53.4" height="29.3"/><rect class="B" x="76.7" y="1812.9" width="53.4" height="29.3"/><rect class="T" x="130" y="1812.9" width="53.4" height="29.3"/><rect class="T" x="183.3" y="1812.9" width="53.4" height="29.3"/><rect class="T" x="236.7" y="1812.9" width="53.4" height="29.3"/><rect class="T" x="290" y="1812.9" width="53.3" height="29.3"/></g>
<path class="sp" d="M76.7,1812.9v29.3M130,1812.9v29.3M183.3,1812.9v29.3M236.7,1812.9v29.3M290,1812.9v29.3"/>
<text class="v" x="50" y="1834.4" textLength="19" lengthAdjust="spacingAndGlyphs">5</text><text class="v" x="103.3" y="1834.4" textLength="19" lengthAdjust="spacingAndGlyphs">1</text><text class="v" x="156.7" y="1834.4" textLength="19" lengthAdjust="spacingAndGlyphs">6</text><text class="v" x="210" y="1834.4" textLength="19" lengthAdjust="spacingAndGlyphs">9</text><text class="v" x="263.3" y="1834.4" textLength="38" lengthAdjust="spacingAndGlyphs">10</text><text class="v" x="316.7" y="1834.4" textLength="38" lengthAdjust="spacingAndGlyphs">12</text>
</g>

<!-- Row 7 right -->
<g id="r7r-n0"><text class="i" x="647.3" y="1675" textLength="15" lengthAdjust="spacingAndGlyphs">0</text><ellipse class="B" cx="647.3" cy="1692.7" rx="26.7" ry="14.4"/><text class="v" x="647.3" y="1699.4" textLength="19" lengthAdjust="spacingAndGlyphs">1</text></g>
<g id="r7r-n1"><text class="i" x="583" y="1727.7" textLength="15" lengthAdjust="spacingAndGlyphs">1</text><ellipse class="R" cx="583" cy="1746" rx="26.7" ry="14.4"/><text class="v" x="583" y="1752.7" textLength="19" lengthAdjust="spacingAndGlyphs">5</text></g>
<g id="r7r-array">
<rect class="sh" x="463" y="1815.9" width="316" height="29.3"/>
<text class="i" x="488" y="1809.9" textLength="15" lengthAdjust="spacingAndGlyphs">0</text><text class="i" x="541.3" y="1809.9" textLength="15" lengthAdjust="spacingAndGlyphs">1</text><text class="i" x="594.7" y="1809.9" textLength="15" lengthAdjust="spacingAndGlyphs">2</text><text class="i" x="648" y="1809.9" textLength="15" lengthAdjust="spacingAndGlyphs">3</text><text class="i" x="701.3" y="1809.9" textLength="15" lengthAdjust="spacingAndGlyphs">4</text><text class="i" x="754.7" y="1809.9" textLength="15" lengthAdjust="spacingAndGlyphs">5</text>
<g clip-path="url(#rc)"><rect class="M" x="461.3" y="1812.9" width="53.4" height="29.3"/><rect class="T" x="514.7" y="1812.9" width="53.4" height="29.3"/><rect class="T" x="568" y="1812.9" width="53.4" height="29.3"/><rect class="T" x="621.3" y="1812.9" width="53.4" height="29.3"/><rect class="T" x="674.7" y="1812.9" width="53.4" height="29.3"/><rect class="T" x="728" y="1812.9" width="53.3" height="29.3"/></g>
<path class="sp" d="M514.7,1812.9v29.3M568,1812.9v29.3M621.3,1812.9v29.3M674.7,1812.9v29.3M728,1812.9v29.3"/>
<text class="v" x="488" y="1834.4" textLength="19" lengthAdjust="spacingAndGlyphs">1</text><text class="v" x="541.3" y="1834.4" textLength="19" lengthAdjust="spacingAndGlyphs">5</text><text class="v" x="594.7" y="1834.4" textLength="19" lengthAdjust="spacingAndGlyphs">6</text><text class="v" x="648" y="1834.4" textLength="19" lengthAdjust="spacingAndGlyphs">9</text><text class="v" x="701.3" y="1834.4" textLength="38" lengthAdjust="spacingAndGlyphs">10</text><text class="v" x="754.7" y="1834.4" textLength="38" lengthAdjust="spacingAndGlyphs">12</text>
</g>

<!-- Row 8 left -->
<g id="r8l-array">
<rect class="sh" x="25" y="2009.3" width="316" height="29.3"/>
<text class="i" x="50" y="2003.3" textLength="15" lengthAdjust="spacingAndGlyphs">0</text><text class="i" x="103.3" y="2003.3" textLength="15" lengthAdjust="spacingAndGlyphs">1</text><text class="i" x="156.7" y="2003.3" textLength="15" lengthAdjust="spacingAndGlyphs">2</text><text class="i" x="210" y="2003.3" textLength="15" lengthAdjust="spacingAndGlyphs">3</text><text class="i" x="263.3" y="2003.3" textLength="15" lengthAdjust="spacingAndGlyphs">4</text><text class="i" x="316.7" y="2003.3" textLength="15" lengthAdjust="spacingAndGlyphs">5</text>
<g clip-path="url(#rc)"><rect class="T" x="23.3" y="2006.3" width="320" height="29.3"/></g>
<path class="sp" d="M76.7,2006.3v29.3M130,2006.3v29.3M183.3,2006.3v29.3M236.7,2006.3v29.3M290,2006.3v29.3"/>
<text class="v" x="50" y="2027.8" textLength="19" lengthAdjust="spacingAndGlyphs">1</text><text class="v" x="103.3" y="2027.8" textLength="19" lengthAdjust="spacingAndGlyphs">5</text><text class="v" x="156.7" y="2027.8" textLength="19" lengthAdjust="spacingAndGlyphs">6</text><text class="v" x="210" y="2027.8" textLength="19" lengthAdjust="spacingAndGlyphs">9</text><text class="v" x="263.3" y="2027.8" textLength="38" lengthAdjust="spacingAndGlyphs">10</text><text class="v" x="316.7" y="2027.8" textLength="38" lengthAdjust="spacingAndGlyphs">12</text>
</g>

<!-- Row 8 right -->
<g id="r8r-n0"><text class="i" x="621" y="1922.4" textLength="15" lengthAdjust="spacingAndGlyphs">0</text><ellipse class="B" cx="621" cy="1940" rx="26.7" ry="14.4"/><text class="v" x="621" y="1946.7" textLength="19" lengthAdjust="spacingAndGlyphs">1</text></g>
<g id="r8r-array">
<rect class="sh" x="463" y="2009.3" width="316" height="29.3"/>
<text class="i" x="488" y="2003.3" textLength="15" lengthAdjust="spacingAndGlyphs">0</text><text class="i" x="541.3" y="2003.3" textLength="15" lengthAdjust="spacingAndGlyphs">1</text><text class="i" x="594.7" y="2003.3" textLength="15" lengthAdjust="spacingAndGlyphs">2</text><text class="i" x="648" y="2003.3" textLength="15" lengthAdjust="spacingAndGlyphs">3</text><text class="i" x="701.3" y="2003.3" textLength="15" lengthAdjust="spacingAndGlyphs">4</text><text class="i" x="754.7" y="2003.3" textLength="15" lengthAdjust="spacingAndGlyphs">5</text>
<g clip-path="url(#rc)"><rect class="M" x="461.3" y="2006.3" width="53.4" height="29.3"/><rect class="T" x="514.7" y="2006.3" width="266.6" height="29.3"/></g>
<path class="sp" d="M514.7,2006.3v29.3M568,2006.3v29.3M621.3,2006.3v29.3M674.7,2006.3v29.3M728,2006.3v29.3"/>
<text class="v" x="488" y="2027.8" textLength="19" lengthAdjust="spacingAndGlyphs">1</text><text class="v" x="541.3" y="2027.8" textLength="19" lengthAdjust="spacingAndGlyphs">5</text><text class="v" x="594.7" y="2027.8" textLength="19" lengthAdjust="spacingAndGlyphs">6</text><text class="v" x="648" y="2027.8" textLength="19" lengthAdjust="spacingAndGlyphs">9</text><text class="v" x="701.3" y="2027.8" textLength="38" lengthAdjust="spacingAndGlyphs">10</text><text class="v" x="754.7" y="2027.8" textLength="38" lengthAdjust="spacingAndGlyphs">12</text>
</g>
</svg>
